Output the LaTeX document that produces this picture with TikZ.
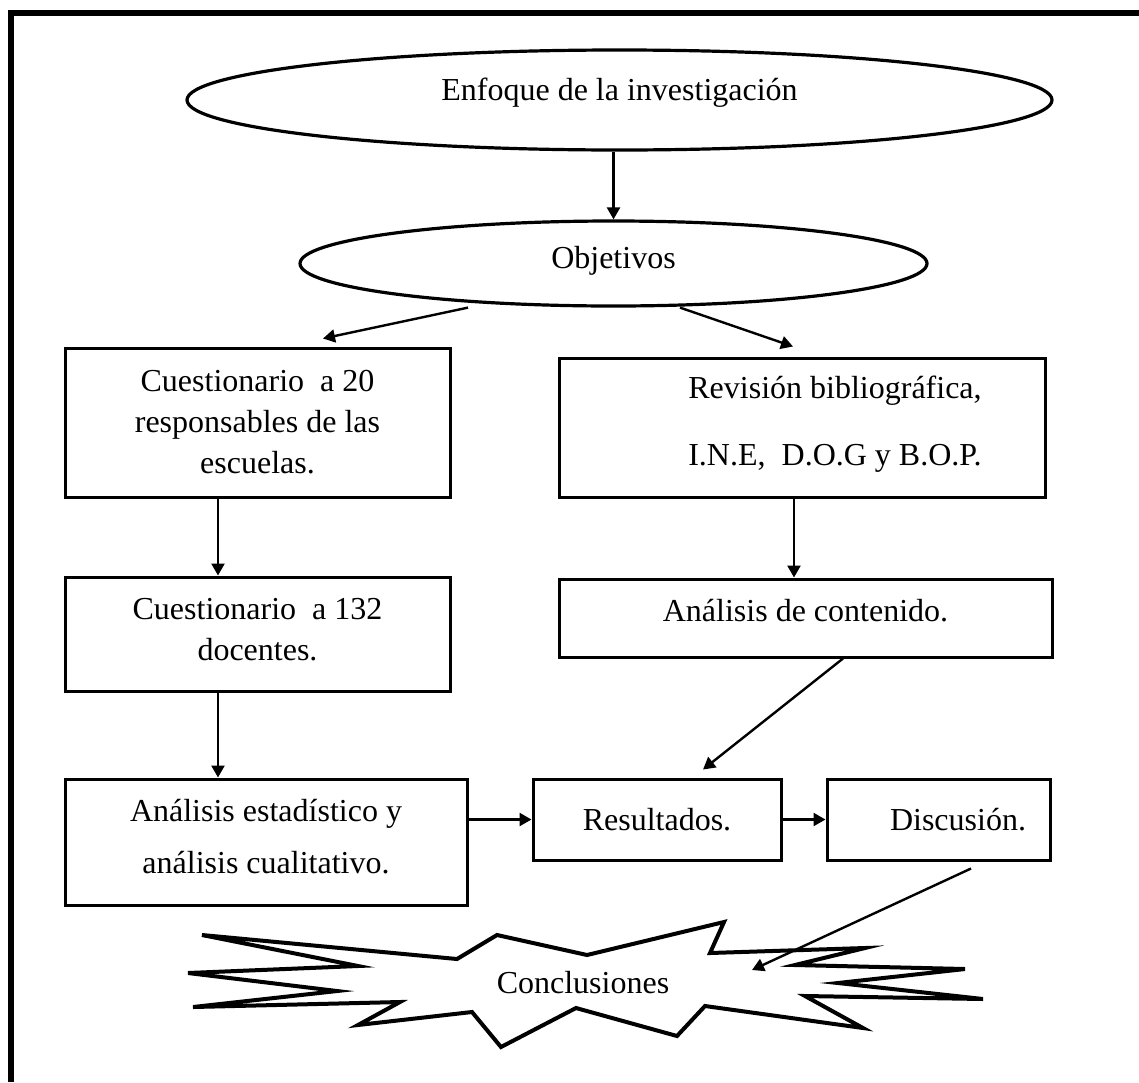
\documentclass[tikz,border=0pt]{standalone}
\usepackage{fontspec}
\setmainfont{Liberation Serif}
\usetikzlibrary{calc, shapes.geometric, arrows.meta}

\begin{document}
\begin{tikzpicture}[x=0.5pt, y=-0.5pt,
    every node/.style={font=\fontsize{16pt}{20.5pt}\selectfont},
    elli/.style={draw, ellipse, line width=1.6pt, inner sep=0pt},
    box/.style={draw, rectangle, line width=1.5pt, inner sep=0pt, align=center},
    arr/.style={-{Triangle[length=6pt,width=6.5pt]}, line width=1.2pt}]
    \useasboundingbox (0,0) rectangle (1139,1082);
    \draw[line width=3pt] (10.5,1082) -- (10.5,13) -- (1139,13);

    \node[elli, minimum width=432.5pt, minimum height=50pt, text depth=10.5pt] (enf) at (619.5,100) {Enfoque de la investigación};
    \node[elli, minimum width=313.5pt, minimum height=42.5pt, text depth=6pt] (obj) at (613.5,263.5) {Objetivos};

    \node[box, minimum width=192.5pt, minimum height=74.5pt] (cuest20) at (257.5,422.5)
        {Cuestionario\ \ a 20\\responsables de las\\escuelas.};
    \node[box, minimum width=192.5pt, minimum height=57pt, text depth=5pt] (cuest132) at (257.5,634)
        {Cuestionario\ \ a 132\\docentes.};
    \node[box, minimum width=201pt, minimum height=63pt, text depth=6pt] (analisis) at (266,842)
        {Análisis estadístico y\\[5.5pt]análisis cualitativo.};

    \node[box, minimum width=243pt, minimum height=69.5pt] (revis) at (802,427.5) {};
    \node[align=center] (revtxt) at ([xshift=16.5pt, yshift=1.75pt]revis.center)
        {Revisión bibliográfica,\\[13pt]I.N.E,\ \ D.O.G y B.O.P.};
    \node[box, minimum width=246.5pt, minimum height=39pt, text depth=8pt] (contenido) at (805.5,618) {Análisis de contenido.};
    \node[box, minimum width=124pt, minimum height=40.5pt] (result) at (657,819.5) {Resultados.};
    \node[box, minimum width=111.5pt, minimum height=40.5pt] (discus) at (938.5,819.5) {};
    \node (distxt) at ([xshift=9.75pt]discus.center) {Discusión.};

    % estrella de conclusiones
    \draw[line width=2pt] (202,935) -- (457,959) -- (497,935) -- (587,955) -- (724,922)
        -- (710,953) -- (865,948) -- (795,965) -- (965,969) -- (838,983) -- (983,999)
        -- (805,996) -- (863,1028) -- (705,1006) -- (677,1036) -- (576,1008) -- (501,1047)
        -- (472,1012) -- (358,1025) -- (400,1002) -- (193,1007) -- (337,991) -- (188,973)
        -- (358,966) -- cycle;
    \node (concl) at (583,983) {Conclusiones};

    \draw[arr] (obj.north |- enf.south) -- (obj.north);
    \draw[arr] ([xshift=-72.75pt]obj.south) -- ([xshift=32.75pt, yshift=4pt]cuest20.north);
    \draw[arr] ([xshift=33.25pt]obj.south) -- ([xshift=-4.5pt, yshift=5pt]revis.north);
    \draw[arr] ([xshift=-19.75pt]cuest20.south) -- ([xshift=-19.75pt]cuest132.north);
    \draw[arr] ([xshift=-19.75pt]cuest132.south) -- ([xshift=-24pt]analisis.north);
    \draw[arr] ([xshift=-4pt]revis.south) -- ([xshift=-5.75pt]contenido.north);
    \draw[arr] ([xshift=18.75pt]contenido.south) -- ([xshift=23pt, yshift=4pt]result.north);
    \draw[arr] (analisis.east |- result.west) -- (result.west);
    \draw[arr] (result.east) -- (discus.west);
    \draw[arr] ([xshift=16.25pt, yshift=-3.5pt]discus.south) -- ([xshift=84.5pt, yshift=6.5pt]concl.center);
\end{tikzpicture}
\end{document}
